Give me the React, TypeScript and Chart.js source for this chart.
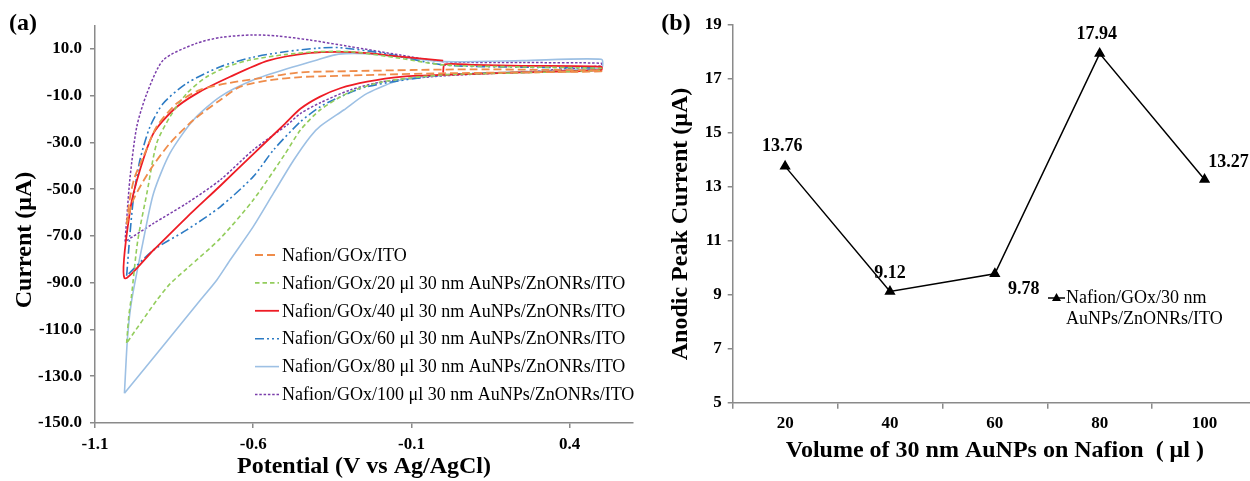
import React, { useEffect, useRef } from 'react';
import { Chart, registerables } from 'chart.js';

Chart.register(...registerables);

type Pt = [number, number];

// Cyclic voltammograms, [potential (V vs Ag/AgCl), current (µA)]
const cvNafion: Pt[] = [
  [-1.0, -65], [-0.99, -54], [-0.975, -45], [-0.947, -36.1], [-0.905, -23.2], [-0.841, -13.2],
  [-0.768, -7.5], [-0.683, -4.7], [-0.578, -2.5], [-0.45, 0.0], [-0.3, 0.5], [-0.1, 1.0],
  [0.1, 1.3], [0.3, 1.1], [0.5, 0.8],
  [0.5, 0.4], [0.25, 0.0], [0.0, -0.4], [-0.2, -1.0], [-0.388, -1.7], [-0.45, -2.0],
  [-0.546, -3.3], [-0.641, -6.1], [-0.704, -11.8], [-0.789, -20.4], [-0.863, -30.3],
  [-0.926, -41.8], [-0.979, -54.6], [-1.0, -65],
];

const cv20: Pt[] = [
  [-1.0, -115.8], [-0.993, -104], [-0.985, -96], [-0.965, -72], [-0.936, -51.7], [-0.905, -30.3],
  [-0.863, -19.0], [-0.81, -9.0], [-0.747, -1.9], [-0.68, 2.5], [-0.61, 5.3], [-0.5, 7.6],
  [-0.4, 8.8], [-0.29, 8.8], [-0.135, 6.0], [0.0, 3.2], [0.25, 2.3], [0.5, 1.7],
  [0.5, 0.8], [0.25, -0.2], [0.0, -1.1], [-0.19, -4.0], [-0.293, -8.3], [-0.388, -16.0],
  [-0.451, -24.7], [-0.5, -35.0], [-0.6, -54.6], [-0.704, -71.0], [-0.81, -84.0],
  [-0.863, -90.5], [-0.905, -97.5], [-1.0, -115.8],
];

const cv40: Pt[] = [
  [0.0, -0.1], [0.005, 3.4], [0.1, 3.2], [0.25, 2.8], [0.5, 2.4],
  [0.5, 1.0], [0.25, 0.0], [0.0, -1.1], [-0.135, -1.9], [-0.24, -4.0], [-0.325, -6.8],
  [-0.39, -10.5], [-0.45, -15.5], [-0.5, -22.0], [-0.6, -35.0], [-0.704, -48.5],
  [-0.81, -62.0], [-0.915, -76.0], [-1.007, -88.0],
  [-0.989, -58.9], [-0.958, -41.8], [-0.915, -26.0], [-0.852, -16.0], [-0.778, -9.0],
  [-0.673, -1.9], [-0.553, 5.0], [-0.42, 8.3], [-0.325, 8.8], [-0.24, 8.2], [-0.135, 6.7],
  [0.0, 5.0],
];

const cv60: Pt[] = [
  [-1.0, -87], [-0.99, -70], [-0.979, -54.6], [-0.958, -37.5], [-0.926, -23.2], [-0.884, -13.2],
  [-0.81, -4.7], [-0.704, 2.4], [-0.6, 6.5], [-0.5, 8.8], [-0.4, 10.3], [-0.33, 10.6],
  [-0.19, 8.2], [0.0, 3.2], [0.25, 2.2], [0.5, 1.8],
  [0.5, 1.2], [0.25, 0.0], [0.0, -1.1], [-0.24, -6.1], [-0.347, -11.8], [-0.388, -14.7],
  [-0.45, -21.0], [-0.536, -33.2], [-0.6, -44.6], [-0.704, -57.5], [-0.81, -67.4],
  [-0.915, -76.0], [-1.0, -87],
];

const cv80: Pt[] = [
  [-1.007, -137.3], [-0.997, -113], [-0.984, -97.4], [-0.947, -71.7], [-0.915, -51.7],
  [-0.863, -34.6], [-0.789, -20.4], [-0.704, -10.4], [-0.6, -3.3], [-0.472, 2.4],
  [-0.398, 5.3], [-0.33, 7.8], [-0.24, 8.0], [-0.135, 6.6], [0.0, 4.6], [0.25, 5.0], [0.5, 5.6],
  [0.5, 2.0], [0.25, 0.3], [0.0, -1.1], [-0.135, -3.3], [-0.24, -9.0], [-0.314, -16.1],
  [-0.388, -23.0], [-0.42, -27.5], [-0.472, -37.5], [-0.536, -51.7], [-0.6, -66.0],
  [-0.673, -80.3], [-0.715, -88.8], [-0.767, -97.4], [-1.007, -137.3],
];

const cv100: Pt[] = [
  [-1.005, -72.4], [-1.0, -63], [-0.989, -44.6], [-0.968, -23.2], [-0.936, -9.0], [-0.884, 5.3],
  [-0.78, 12.4], [-0.7, 15.0], [-0.6, 16.0], [-0.525, 15.6], [-0.42, 13.8], [-0.293, 11.0],
  [-0.135, 7.4], [0.0, 4.6], [0.25, 4.2], [0.5, 3.9],
  [0.5, 2.8], [0.25, 0.2], [0.0, -1.5], [-0.19, -4.0], [-0.293, -7.5], [-0.388, -13.0],
  [-0.45, -17.5], [-0.493, -22.5], [-0.6, -33.2], [-0.704, -46.0], [-0.81, -56.0],
  [-0.915, -64.6], [-1.005, -72.4],
];

const cvSeries: Pt[][] = [cvNafion, cv20, cv40, cv60, cv80, cv100];

const cvLabels: string[] = [
  'Nafion/GOx/ITO',
  'Nafion/GOx/20 μl 30 nm AuNPs/ZnONRs/ITO',
  'Nafion/GOx/40 μl 30 nm AuNPs/ZnONRs/ITO',
  'Nafion/GOx/60 μl 30 nm AuNPs/ZnONRs/ITO',
  'Nafion/GOx/80 μl 30 nm AuNPs/ZnONRs/ITO',
  'Nafion/GOx/100 μl 30 nm AuNPs/ZnONRs/ITO',
];

const potentialTicks: number[] = [-1.1, -0.6, -0.1, 0.4];
const currentTicks: number[] = [-150, -130, -110, -90, -70, -50, -30, -10, 10];

// Anodic peak current vs AuNP volume
const volumes: string[] = ['20', '40', '60', '80', '100'];
const peakCurrents: number[] = [13.76, 9.12, 9.78, 17.94, 13.27];
const peakTicks: number[] = [5, 7, 9, 11, 13, 15, 17, 19];
const peakLegend: string[] = ['Nafion/GOx/30 nm', 'AuNPs/ZnONRs/ITO'];

const SERIF = '"Liberation Serif", "Times New Roman", serif';
const AXIS = '#8a8a8a';

const cvStyles = [
  { color: '#EF8C4A', dash: [8, 4], width: 1.8 },
  { color: '#93CD5C', dash: [4.5, 3], width: 1.6 },
  { color: '#EE1C25', dash: [] as number[], width: 1.8 },
  { color: '#2C7BC4', dash: [9, 3, 2, 3, 2, 3], width: 1.6 },
  { color: '#9DC0E4', dash: [] as number[], width: 1.6 },
  { color: '#7A3DAA', dash: [2.5, 1.8], width: 1.5 },
];

// offsets of the value labels from their markers
const peakLabelOffsets: [number, number][] = [[-3, -20], [0, -18], [29, 16], [-3, -19], [24, -17]];

const tickFont = { family: SERIF, size: 17, weight: 'bold' as const };
const titleFont = { family: SERIF, size: 24, weight: 'bold' as const };

function drawRotated(ctx: CanvasRenderingContext2D, text: string, x: number, y: number) {
  ctx.save();
  ctx.translate(x, y);
  ctx.rotate(-Math.PI / 2);
  ctx.textAlign = 'center';
  ctx.textBaseline = 'middle';
  ctx.fillText(text, 0, 0);
  ctx.restore();
}

const cvDecor = {
  id: 'cvDecor',
  afterDraw(chart: any) {
    const ctx: CanvasRenderingContext2D = chart.ctx;
    ctx.save();
    ctx.fillStyle = '#000';
    ctx.font = `bold 24px ${SERIF}`;
    ctx.textAlign = 'center';
    ctx.textBaseline = 'middle';
    ctx.fillText('(a)', 23, 24);
    drawRotated(ctx, 'Current (μA)', 25, 240);

    // legend
    const x0 = 255;
    const x1 = 279;
    ctx.font = `18px ${SERIF}`;
    ctx.textAlign = 'left';
    cvLabels.forEach((label, i) => {
      const y = 255 + i * 27.9;
      const st = cvStyles[i];
      ctx.beginPath();
      ctx.setLineDash(st.dash);
      ctx.strokeStyle = st.color;
      ctx.lineWidth = st.width;
      ctx.moveTo(x0, y);
      ctx.lineTo(x1, y);
      ctx.stroke();
      ctx.setLineDash([]);
      ctx.fillStyle = '#000';
      ctx.fillText(label, 282, y + 1);
    });
    ctx.restore();
  },
};

const peakDecor = {
  id: 'peakDecor',
  afterDraw(chart: any) {
    const ctx: CanvasRenderingContext2D = chart.ctx;
    ctx.save();
    ctx.fillStyle = '#000';
    ctx.font = `bold 24px ${SERIF}`;
    ctx.textAlign = 'center';
    ctx.textBaseline = 'middle';
    ctx.fillText('(b)', 36, 24);
    drawRotated(ctx, 'Anodic Peak Current (μA)', 41, 224);

    // value labels
    const meta = chart.getDatasetMeta(0);
    ctx.font = `bold 18px ${SERIF}`;
    meta.data.forEach((pt: any, i: number) => {
      const [dx, dy] = peakLabelOffsets[i];
      ctx.fillText(peakCurrents[i].toFixed(2), pt.x + dx, pt.y + dy);
    });

    // legend
    const ly = 298;
    ctx.strokeStyle = '#000';
    ctx.lineWidth = 1.5;
    ctx.beginPath();
    ctx.moveTo(408, ly);
    ctx.lineTo(425, ly);
    ctx.stroke();
    ctx.beginPath();
    ctx.moveTo(416.5, ly - 5);
    ctx.lineTo(421, ly + 3);
    ctx.lineTo(412, ly + 3);
    ctx.closePath();
    ctx.fill();
    ctx.font = `18px ${SERIF}`;
    ctx.textAlign = 'left';
    peakLegend.forEach((t, i) => ctx.fillText(t, 426, ly + i * 21));
    ctx.restore();
  },
};

function CvChart() {
  const ref = useRef<HTMLCanvasElement>(null);
  useEffect(() => {
    const chart = new Chart(ref.current as HTMLCanvasElement, {
      type: 'scatter',
      data: {
        datasets: cvSeries.map((s, i) => ({
          label: cvLabels[i],
          data: s.map(([x, y]) => ({ x, y })),
          showLine: true,
          borderColor: cvStyles[i].color,
          borderDash: cvStyles[i].dash,
          borderWidth: cvStyles[i].width,
          pointRadius: 0,
          fill: false,
          tension: 0.25,
        })),
      },
      options: {
        animation: false,
        responsive: false,
        devicePixelRatio: 1,
        layout: { padding: { left: 0, right: 7, top: 25.6, bottom: 0 } },
        plugins: { legend: { display: false }, tooltip: { enabled: false } },
        scales: {
          x: {
            type: 'linear',
            min: -1.1,
            max: 0.6,
            afterBuildTicks: (s: any) => { s.ticks = potentialTicks.map((v) => ({ value: v })); },
            afterFit: (s: any) => { s.height = 58; },
            grid: { drawOnChartArea: false, drawTicks: true, tickLength: 5, color: AXIS, lineWidth: 1.5 },
            border: { color: AXIS, width: 1.5 },
            ticks: {
              color: '#000', font: tickFont, padding: 6, maxRotation: 0, autoSkip: false,
              callback: (v: any) => Number(v).toFixed(1),
            },
            title: {
              display: true, text: 'Potential (V vs Ag/AgCl)', color: '#000', font: titleFont,
              padding: { top: 0, bottom: 0 },
            },
          },
          y: {
            type: 'linear',
            min: -150,
            max: 20,
            afterBuildTicks: (s: any) => { s.ticks = currentTicks.map((v) => ({ value: v })); },
            afterFit: (s: any) => { s.width = 95; },
            grid: { drawOnChartArea: false, drawTicks: true, tickLength: 5, color: AXIS, lineWidth: 1.5 },
            border: { color: AXIS, width: 1.5 },
            ticks: {
              color: '#000', font: tickFont, padding: 8, autoSkip: false,
              callback: (v: any) => Number(v).toFixed(1),
            },
          },
        },
      },
      plugins: [cvDecor],
    } as any);
    return () => chart.destroy();
  }, []);
  return (
    <canvas
      ref={ref}
      width={640}
      height={481}
      style={{ position: 'absolute', left: 0, top: 0, width: 640, height: 481 }}
    />
  );
}

function PeakChart() {
  const ref = useRef<HTMLCanvasElement>(null);
  useEffect(() => {
    const chart = new Chart(ref.current as HTMLCanvasElement, {
      type: 'line',
      data: {
        labels: volumes,
        datasets: [{
          label: 'Nafion/GOx/30 nm AuNPs/ZnONRs/ITO',
          data: peakCurrents,
          borderColor: '#000',
          borderWidth: 1.5,
          pointStyle: 'triangle',
          pointRadius: 5,
          pointBackgroundColor: '#000',
          pointBorderColor: '#000',
          tension: 0,
          fill: false,
        }],
      },
      options: {
        animation: false,
        responsive: false,
        devicePixelRatio: 1,
        layout: { padding: { left: 0, right: 13, top: 25, bottom: 0 } },
        plugins: { legend: { display: false }, tooltip: { enabled: false } },
        scales: {
          x: {
            type: 'category',
            offset: true,
            afterFit: (s: any) => { s.height = 78.3; },
            grid: { offset: true, drawOnChartArea: false, drawTicks: true, tickLength: 6, color: AXIS, lineWidth: 1.5 },
            border: { color: AXIS, width: 1.5 },
            ticks: { color: '#000', font: tickFont, padding: 5, maxRotation: 0, autoSkip: false },
            title: {
              display: true, text: 'Volume of 30 nm AuNPs on Nafion  ( μl )', color: '#000', font: titleFont,
              padding: { top: 0, bottom: 16 },
            },
          },
          y: {
            type: 'linear',
            min: 5,
            max: 19,
            afterBuildTicks: (s: any) => { s.ticks = peakTicks.map((v) => ({ value: v })); },
            afterFit: (s: any) => { s.width = 92.7; },
            grid: { drawOnChartArea: false, drawTicks: true, tickLength: 5, color: AXIS, lineWidth: 1.5 },
            border: { color: AXIS, width: 1.5 },
            ticks: { color: '#000', font: tickFont, padding: 6, autoSkip: false },
          },
        },
      },
      plugins: [peakDecor],
    } as any);
    return () => chart.destroy();
  }, []);
  return (
    <canvas
      ref={ref}
      width={630}
      height={481}
      style={{ position: 'absolute', left: 640, top: 0, width: 630, height: 481 }}
    />
  );
}

export default function App() {
  return (
    <div
      style={{
        position: 'absolute', left: 0, top: 0, width: 1250, height: 481,
        overflow: 'hidden', background: '#fff',
      }}
    >
      <CvChart />
      <PeakChart />
    </div>
  );
}
